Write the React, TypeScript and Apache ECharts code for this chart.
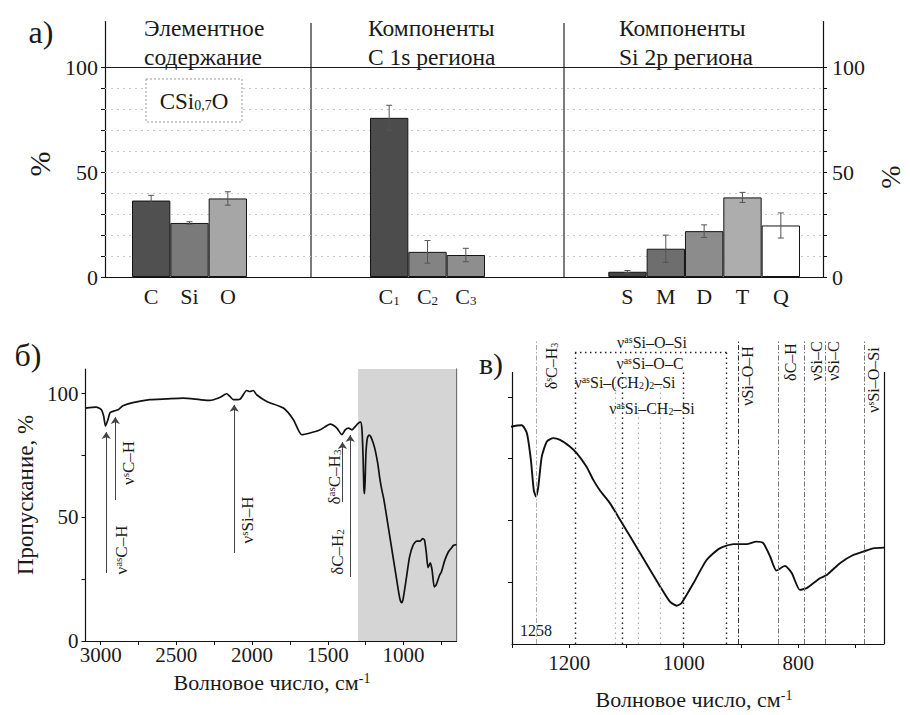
import React, { useEffect, useRef } from 'react';
import * as echarts from 'echarts';

const FONT = "'Liberation Serif', 'Times New Roman', 'DejaVu Serif', serif";
const INK = '#1a1a1a';

// ---------- panel а: XPS composition ----------
const elementCats = ['C', 'Si', 'O'];
const elementVals = [36.5, 25.8, 37.5];
const elementErr = [2.5, 0.6, 3.2];

const c1sCats = ['C1', 'C2', 'C3'];
const c1sVals = [76, 12, 10.5];
const c1sErr = [6, 5.4, 3.2];

const si2pCats = ['S', 'M', 'D', 'T', 'Q'];
const si2pVals = [2.5, 13.5, 21.9, 38, 24.6];
const si2pErr = [0.6, 6.5, 3, 2.4, 6];

const percentTicks = [0, 10, 20, 30, 40, 50, 60, 70, 80, 90, 100];
const percentLabels = [0, 50, 100];

// ---------- panels б, в: IR spectrum ----------
const irWavenumber = [3100, 3030, 2995, 2980, 2968, 2952, 2937, 2908, 2886, 2853, 2787, 2676, 2566, 2456, 2345, 2279, 2213, 2168, 2146, 2124, 2080, 2036, 2014, 1992, 1970, 1903, 1793, 1727, 1672, 1617, 1550, 1484, 1440, 1407, 1385, 1363, 1340, 1319, 1300, 1283, 1274, 1267, 1262, 1258, 1254, 1248, 1239, 1228, 1216, 1199, 1187, 1170, 1158, 1146, 1129, 1111, 1076, 1041, 1024, 1012, 1004, 983, 960, 937, 913, 890, 873, 861, 849, 838, 823, 811, 797, 785, 762, 750, 727, 704, 686, 669, 650];
const irTransmittance = [94.2, 94.6, 93.5, 90.9, 87.0, 89.5, 92.4, 93.1, 93.5, 95.1, 96.4, 97.6, 97.9, 98.2, 97.6, 97.3, 98.5, 100.0, 98.9, 97.6, 97.8, 101.3, 100.9, 101.3, 99.6, 96.9, 94.2, 89.5, 83.4, 84.1, 85.4, 87.7, 86.1, 83.4, 85.4, 86.1, 85.4, 86.7, 88.0, 88.5, 85.3, 74.5, 62.3, 59.6, 63.7, 75.8, 81.9, 83.3, 82.6, 79.9, 77.2, 71.8, 66.4, 62.0, 57.0, 50.2, 36.7, 23.2, 17.1, 15.5, 16.5, 24.6, 34.0, 38.7, 40.4, 40.4, 41.4, 40.8, 35.4, 29.7, 31.6, 28.6, 21.9, 22.6, 26.6, 27.9, 32.7, 36.0, 37.4, 38.7, 39.0];

const bShadeFrom = 1300;
const bShadeTo = 650;
const bXTicks = [750, 1000, 1250, 1500, 1750, 2000, 2250, 2500, 2750, 3000];
const bXLabels = [1000, 1500, 2000, 2500, 3000];
const bYTicks = [0, 25, 50, 75, 100];
const bYLabels = [0, 50, 100];

// arrows in б: wavenumber, tail value, head value
const arrowWn = [2963, 2903, 2118, 1403, 1352];
const arrowFrom = [27.5, 57, 35.6, 56.2, 25.9];
const arrowTo = [84.5, 90.6, 95.5, 80.5, 83.3];

const cXTicks = [700, 800, 900, 1000, 1100, 1200, 1300];
const cXLabels = [800, 1000, 1200];
const cYTicks = [25, 50, 75, 100];

// assignment lines in в
const siOSiBand = [1190, 925];
const siOSiTop = 118;
const darkLines = [1107, 1000];
const darkTop = 110;
const lightLines = [1120, 1079, 1041];
const lightTop = [104, 97, 104];
const dashLines = [1258, 905, 835, 790, 752, 685];
const dashTop = 123;

// ---------- helpers ----------
function rt(s: string) {
  let out = '';
  let buf = '';
  let i = 0;
  const flush = () => {
    if (buf) { out += `{n|${buf}}`; buf = ''; }
  };
  while (i < s.length) {
    const c = s[i];
    if ((c === '^' || c === '_') && s[i + 1] === '{') {
      const j = s.indexOf('}', i);
      flush();
      out += `{${c === '^' ? 'sup' : 'sub'}|${s.slice(i + 2, j)}}`;
      i = j + 1;
    } else {
      buf += c;
      i++;
    }
  }
  flush();
  return out;
}

function richStyles(size: number) {
  const small = Math.round(size * 0.62);
  return {
    n: { fontSize: size, fontFamily: FONT, fill: INK, color: INK },
    sup: { fontSize: small, fontFamily: FONT, fill: INK, color: INK, verticalAlign: 'top' },
    sub: { fontSize: small, fontFamily: FONT, fill: INK, color: INK, verticalAlign: 'bottom' },
  };
}

function txt(x: number, y: number, s: string, size: number, rot = 0, align = 'center') {
  return {
    type: 'text',
    x,
    y,
    rotation: rot,
    silent: true,
    z: 50,
    style: {
      text: rt(s),
      rich: richStyles(size),
      fontSize: size,
      fontFamily: FONT,
      fill: INK,
      align,
      verticalAlign: 'middle',
    },
  };
}

const plain = (v: number) => String(v);

const A_TOP = 21.5;
const A_H = 255.5;
const A_MAX = 122;

function barSeries(idx: number, vals: number[], colors: string[]) {
  return {
    type: 'bar',
    xAxisIndex: idx,
    yAxisIndex: idx + 1,
    barCategoryGap: '0%',
    z: 3,
    itemStyle: { borderColor: '#151515', borderWidth: 1 },
    data: vals.map((v, i) => ({ value: v, itemStyle: { color: colors[i], borderColor: '#151515', borderWidth: 1 } })),
  };
}

function errSeries(idx: number, vals: number[], errs: number[]) {
  return {
    type: 'custom',
    xAxisIndex: idx,
    yAxisIndex: idx + 1,
    z: 4,
    encode: { x: 0, y: [1, 2] },
    data: vals.map((v, i) => [i, v - errs[i], v + errs[i]]),
    renderItem: (_p: any, api: any) => {
      const x = api.value(0);
      const lo = api.coord([x, api.value(1)]);
      const hi = api.coord([x, api.value(2)]);
      const w = 3;
      const st = { stroke: '#555', lineWidth: 1 };
      return {
        type: 'group',
        children: [
          { type: 'line', shape: { x1: lo[0], y1: lo[1], x2: hi[0], y2: hi[1] }, style: st },
          { type: 'line', shape: { x1: lo[0] - w, y1: lo[1], x2: lo[0] + w, y2: lo[1] }, style: st },
          { type: 'line', shape: { x1: hi[0] - w, y1: hi[1], x2: hi[0] + w, y2: hi[1] }, style: st },
        ],
      };
    },
  };
}

const subFormatter = (v: string) => {
  const m = v.match(/^(\D+)(\d*)$/);
  if (m && m[2]) return `{n|${m[1]}}{sub|${m[2]}}`;
  return `{n|${v}}`;
};

function catAxis(gridIndex: number, cats: string[]) {
  return {
    gridIndex,
    type: 'category',
    data: cats,
    axisLine: { show: false },
    axisTick: { show: false },
    splitLine: { show: false },
    axisLabel: {
      interval: 0,
      margin: 8,
      formatter: subFormatter,
      rich: {
        n: { fontSize: 22, fontFamily: FONT, color: INK },
        sub: { fontSize: 13, fontFamily: FONT, color: INK, verticalAlign: 'bottom' },
      },
    },
  };
}

function hiddenY(gridIndex: number) {
  return { gridIndex, type: 'value', min: 0, max: A_MAX, show: false };
}

function percentAxis(position: 'left' | 'right') {
  return {
    gridIndex: 0,
    type: 'value',
    position,
    min: 0,
    max: A_MAX,
    axisLine: { show: true, lineStyle: { color: '#111', width: 1.2 } },
    axisTick: { show: true, length: 4, customValues: percentTicks, lineStyle: { color: '#111' } },
    axisLabel: {
      customValues: percentLabels,
      formatter: plain,
      fontSize: 22,
      fontFamily: FONT,
      color: INK,
      margin: position === 'left' ? 7 : 9,
    },
    splitLine: { show: false },
  };
}

const spectrum = irWavenumber.map((w, i) => [w, irTransmittance[i]]);

const vline = (wn: number, top: number, lineStyle: any) => [
  { coord: [wn, 0], lineStyle },
  { coord: [wn, top] },
];

const darkDot = { type: [1.5, 3.5], color: '#222', width: 1.4 };
const lightDot = { type: [1.5, 3.5], color: '#aaa', width: 1.2 };
const dashDot = { type: [5, 2, 1.5, 2], color: '#777', width: 1 };
const spine = { type: 'solid', color: '#111', width: 1.2 };

const option: any = {
  animation: false,
  backgroundColor: '#fff',
  textStyle: { fontFamily: FONT, color: INK },
  grid: [
    { left: 105, top: A_TOP, width: 718, height: A_H },
    { left: 132, top: A_TOP, width: 115, height: A_H },
    { left: 370, top: A_TOP, width: 115, height: A_H },
    { left: 608.3, top: A_TOP, width: 191.7, height: A_H },
    { left: 85.5, top: 369, width: 371, height: 272 },
    { left: 512, top: 335, width: 372, height: 309 },
  ],
  xAxis: [
    {
      gridIndex: 0, type: 'value', min: 0, max: 1,
      axisLine: { show: true, onZero: false, lineStyle: { color: '#111', width: 1.2 } },
      axisTick: { show: false }, axisLabel: { show: false }, splitLine: { show: false },
    },
    catAxis(1, elementCats),
    catAxis(2, c1sCats),
    catAxis(3, si2pCats),
    {
      gridIndex: 4, type: 'value', min: 650, max: 3100, inverse: true,
      axisLine: { show: true, onZero: false, lineStyle: { color: '#111', width: 1.2 } },
      axisTick: { show: true, length: 4, customValues: bXTicks, lineStyle: { color: '#111' } },
      axisLabel: { customValues: bXLabels, formatter: plain, fontSize: 21, fontFamily: FONT, color: INK, margin: 3 },
      splitLine: { show: false },
    },
    {
      gridIndex: 5, type: 'value', min: 650, max: 1300, inverse: true,
      axisLine: { show: true, onZero: false, lineStyle: { color: '#111', width: 1.2 } },
      axisTick: { show: true, length: 4, customValues: cXTicks, lineStyle: { color: '#111' } },
      axisLabel: { customValues: cXLabels, formatter: plain, fontSize: 21, fontFamily: FONT, color: INK, margin: 8 },
      splitLine: { show: false },
    },
  ],
  yAxis: [
    percentAxis('left'),
    percentAxis('right'),
    hiddenY(1),
    hiddenY(2),
    hiddenY(3),
    {
      gridIndex: 4, type: 'value', min: 0, max: 110,
      axisLine: { show: true, lineStyle: { color: '#111', width: 1.2 } },
      axisTick: { show: true, length: 4, customValues: bYTicks, lineStyle: { color: '#111' } },
      axisLabel: { customValues: bYLabels, formatter: plain, fontSize: 21, fontFamily: FONT, color: INK, margin: 7 },
      splitLine: { show: false },
    },
    {
      gridIndex: 4, type: 'value', position: 'right', min: 0, max: 110,
      axisLine: { show: true, lineStyle: { color: '#111', width: 1.2 } },
      axisTick: { show: false }, axisLabel: { show: false }, splitLine: { show: false },
    },
    {
      gridIndex: 5, type: 'value', min: 0, max: 125,
      axisLine: { show: false },
      axisTick: { show: true, length: 4, customValues: cYTicks, lineStyle: { color: '#111' } },
      axisLabel: { show: false },
      splitLine: { show: false },
    },
  ],
  series: [
    {
      type: 'line', xAxisIndex: 0, yAxisIndex: 0, data: [[0.5, '-']], symbol: 'none', z: 1,
      markLine: {
        silent: true, symbol: ['none', 'none'], label: { show: false }, z: 1,
        data: percentTicks
          .filter((v) => v > 0 && v < 100)
          .map((v) => ({ yAxis: v, lineStyle: { type: [2, 4], color: '#c9c9c9', width: 1 } }))
          .concat([{ yAxis: 100, lineStyle: { type: 'solid', color: '#1a1a1a', width: 1.2 } } as any]),
      },
    },
    barSeries(1, elementVals, ['#505050', '#7a7a7a', '#a6a6a6']),
    barSeries(2, c1sVals, ['#4c4c4c', '#838383', '#8e8e8e']),
    barSeries(3, si2pVals, ['#444444', '#6e6e6e', '#8c8c8c', '#adadad', '#ffffff']),
    errSeries(1, elementVals, elementErr),
    errSeries(2, c1sVals, c1sErr),
    errSeries(3, si2pVals, si2pErr),
    {
      type: 'line', xAxisIndex: 4, yAxisIndex: 5, data: spectrum, symbol: 'none', smooth: 0.2,
      lineStyle: { color: '#111', width: 1.7 }, z: 3,
      markArea: {
        silent: true,
        itemStyle: { color: '#d5d5d5' },
        data: [[{ xAxis: bShadeFrom }, { xAxis: bShadeTo }]],
      },
      markLine: {
        silent: true, symbol: ['none', 'arrow'], symbolSize: 7, label: { show: false },
        lineStyle: { type: 'solid', color: '#444', width: 1 },
        data: arrowWn.map((w, i) => [{ coord: [w, arrowFrom[i]] }, { coord: [w, arrowTo[i]] }]),
      },
    },
    {
      type: 'line', xAxisIndex: 5, yAxisIndex: 7, data: spectrum, symbol: 'none', smooth: 0.2,
      lineStyle: { color: '#111', width: 1.9 }, z: 3, clip: true,
      markLine: {
        silent: true, symbol: ['none', 'none'], label: { show: false },
        data: [
          vline(1300, 110, spine),
          vline(650, 110, spine),
          ...siOSiBand.map((w) => vline(w, siOSiTop, darkDot)),
          [{ coord: [siOSiBand[0], siOSiTop], lineStyle: darkDot }, { coord: [siOSiBand[1], siOSiTop] }],
          ...darkLines.map((w) => vline(w, darkTop, darkDot)),
          ...lightLines.map((w, i) => vline(w, lightTop[i], lightDot)),
          ...dashLines.map((w, i) =>
            vline(w, dashTop, i === 1 ? { ...dashDot, color: '#333' } : i === 0 ? { ...dashDot, color: '#aaa' } : dashDot)
          ),
        ],
      },
    },
  ],
  graphic: [
    // panel а
    txt(41, 32, 'а)', 32),
    txt(144, 28, 'Элементное', 23.5, 0, 'left'),
    txt(144, 57, 'содержание', 23.5, 0, 'left'),
    txt(368, 28, 'Компоненты', 23.5, 0, 'left'),
    txt(368, 57, 'C 1s региона', 23.5, 0, 'left'),
    txt(619, 28, 'Компоненты', 23.5, 0, 'left'),
    txt(619, 57, 'Si 2p региона', 23.5, 0, 'left'),
    txt(39, 164, '%', 30, Math.PI / 2),
    txt(890, 177, '%', 28, Math.PI / 2),
    { type: 'line', silent: true, shape: { x1: 311, y1: 23, x2: 311, y2: 277 }, style: { stroke: '#222', lineWidth: 1.2 } },
    { type: 'line', silent: true, shape: { x1: 564, y1: 23, x2: 564, y2: 277 }, style: { stroke: '#222', lineWidth: 1.2 } },
    {
      type: 'rect', silent: true, z: 40,
      shape: { x: 146, y: 79, width: 96, height: 43 },
      style: { fill: '#fff', stroke: '#999', lineWidth: 1, lineDash: [2, 2] },
    },
    txt(194, 101, 'CSi_{0,7}O', 23),
    // panel б
    txt(28, 355, 'б)', 32),
    txt(25, 495, 'Пропускание, %', 23, Math.PI / 2),
    txt(272, 682, 'Волновое число, см^{-1}', 22),
    txt(121, 550, 'ν^{as}C–H', 17, Math.PI / 2),
    txt(128, 463, 'ν^{s}C–H', 17, Math.PI / 2),
    txt(247, 520, 'ν^{s}Si–H', 17, Math.PI / 2),
    txt(334, 477, 'δ^{as}C–H_{3}', 17, Math.PI / 2),
    txt(337, 552, 'δC–H_{2}', 17, Math.PI / 2),
    // panel в
    txt(491, 363, 'в)', 30),
    txt(694, 699, 'Волновое число, см^{-1}', 22),
    txt(520, 630, '1258', 16, 0, 'left'),
    txt(551, 366, 'δ^{s}C–H_{3}', 16, Math.PI / 2),
    txt(747, 376, 'νSi–O–H', 16, Math.PI / 2),
    txt(790, 362, 'δC–H', 16, Math.PI / 2),
    txt(816, 361, 'νSi–C', 16, Math.PI / 2),
    txt(833, 361, 'νSi–C', 16, Math.PI / 2),
    txt(873, 380, 'ν^{s}Si–O–Si', 16, Math.PI / 2),
    txt(652, 342, 'ν^{as}Si–O–Si', 16),
    txt(650, 363, 'ν^{as}Si–O–C', 16),
    txt(625, 382, 'ν^{as}Si–(CH_{2})_{2}–Si', 16),
    txt(652, 408, 'ν^{as}Si–CH_{2}–Si', 16),
  ],
};

export default function App() {
  const ref = useRef<HTMLDivElement>(null);
  useEffect(() => {
    if (!ref.current) return;
    const chart = echarts.init(ref.current, null, { renderer: 'svg' });
    chart.setOption(option);
    return () => chart.dispose();
  }, []);
  return (
    <div
      ref={ref}
      style={{ position: 'absolute', left: 0, top: 0, width: 910, height: 715, background: '#fff' }}
    />
  );
}
